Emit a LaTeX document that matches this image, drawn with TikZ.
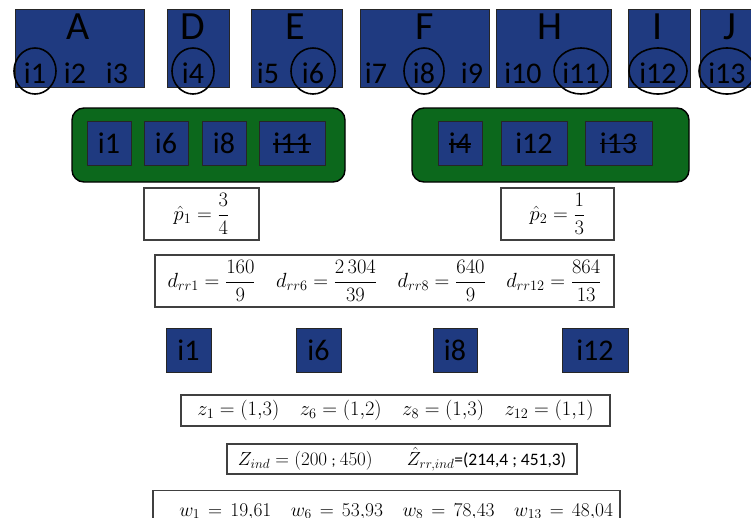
\RequirePackage{fix-cm}
\documentclass[tikz,border=0pt]{standalone}
\usepackage{amsmath}
\usepackage[no-math]{fontspec}
\setmainfont{Carlito}
\usepackage{tikz}
\usetikzlibrary{calc}

\definecolor{itemblue}{RGB}{31,58,128}
\definecolor{poolgreen}{RGB}{12,104,28}

% struck-out label
\newcommand{\strk}[1]{\sbox0{#1}\rlap{\rule[8.8pt]{\wd0}{1.4pt}}\usebox0}

\begin{document}
\begin{tikzpicture}[x=1pt,y=-1pt,
  grp/.style={draw=black!85,line width=\lwgrp,fill=itemblue,inner sep=0pt},
  unit/.style={draw=black!85,line width=\lwgrp,fill=itemblue,inner sep=0pt,font=\fontsize{30}{36}\selectfont},
  pool/.style={draw=black,line width=\lwpool,fill=poolgreen,rounded corners=12pt},
  eqbox/.style={draw=black!75,line width=\lweq,fill=white,inner sep=0pt,font=\fontsize{20.5}{24}\selectfont},
  itm/.style={font=\fontsize{30}{36}\selectfont,inner sep=0pt},
  letter/.style={font=\fontsize{40}{48}\selectfont,inner sep=0pt},
  ring/.style={draw=black,line width=1.6pt}]

\def\lwgrp{0.8pt}
\def\lwpool{1.4pt}
\def\lweq{1.2pt}

\useasboundingbox (0,0) rectangle (751,517);
\clip (0,0) rectangle (751,517);

% groups on top row
\foreach \b/\x/\w in {A/79.5/129, D/198/62, E/296.5/91, F/424.5/129, H/553.5/115, I/659/62, J/731/62}
  \node[grp,minimum width=\w,minimum height=78] (b\b) at (\x,48) {};
\foreach \l/\x in {A/78, D/193, E/295, F/425, H/550, I/658, J/730}
  \node[letter,anchor=base] (l\l) at (\x,39) {\l};
\foreach \n/\x in {1/35, 2/75, 3/117, 4/193, 5/268, 6/313, 7/376, 8/424, 9/472, 10/523, 11/581, 12/658, 13/727}
  \node[itm,anchor=base] (i\n) at (\x,83) {i\n};

% selected items
\foreach \n/\rx in {1/21, 4/21, 6/22, 8/20, 11/27, 12/29, 13/28}
  \draw[ring] ([yshift=12pt]i\n.base) ellipse [x radius=\rx, y radius=23];

% two pools
\node[pool,minimum width=273,minimum height=74] (poolL) at (208.5,145) {};
\node[pool,minimum width=277,minimum height=74] (poolR) at (550.5,145) {};
\foreach \n/\x/\w/\t in {1/109/44/i1, 6/166/44/i6, 8/224/44/i8, 11/292/66/\strk{i11},
                         4/460/44/\strk{i4}, 12/534/66/i12, 13/618.5/67/\strk{i13}}
  \node[unit,minimum width=\w,minimum height=44] (g\n) at (\x,143) {\t};

\node[eqbox,minimum width=115,minimum height=52] (p1) at (201.5,214) {$\hat{p}_1 = \dfrac{3}{4}$};
\node[eqbox,minimum width=113,minimum height=52] (p2) at (557.5,214) {$\hat{p}_2 = \dfrac{1}{3}$};

\node[eqbox,minimum width=459,minimum height=52] (drr) at (384.5,281)
  {$d_{rr1} = \dfrac{160}{9}\quad d_{rr6} = \dfrac{2\,304}{39}\quad d_{rr8} = \dfrac{640}{9}\quad d_{rr12} = \dfrac{864}{13}$};

% kept items
\foreach \n/\x/\w in {1/188.5/45, 6/318.5/45, 8/455/44, 12/595/66}
  \node[unit,minimum width=\w,minimum height=44] (m\n) at (\x,350) {i\n};

\node[eqbox,minimum width=429,minimum height=31] (zs) at (395.5,410.5)
  {$z_1 = (1{,}3)\quad z_6 = (1{,}2)\quad z_8 = (1{,}3)\quad z_{12} = (1{,}1)$};
\node[eqbox,minimum width=350,minimum height=30,font=\fontsize{19}{22}\selectfont] (zind) at (402,459)
  {$Z_{ind} = (200$ {\fontsize{15}{18}\selectfont;} $450)$\hspace{1.8em}$\hat{Z}_{rr,ind}${\fontsize{17.5}{21}\selectfont=(214,4 ; 451,3)}};
\node[eqbox,text width=453,inner xsep=7,align=right,minimum height=42,anchor=north,
      font=\fontsize{19.5}{23}\selectfont] (ws) at (386.5,490)
  {$w_1 = 19{,}61\quad w_6 = 53{,}93\quad w_8 = 78{,}43\quad w_{13} = 48{,}04$};

\end{tikzpicture}
\end{document}
